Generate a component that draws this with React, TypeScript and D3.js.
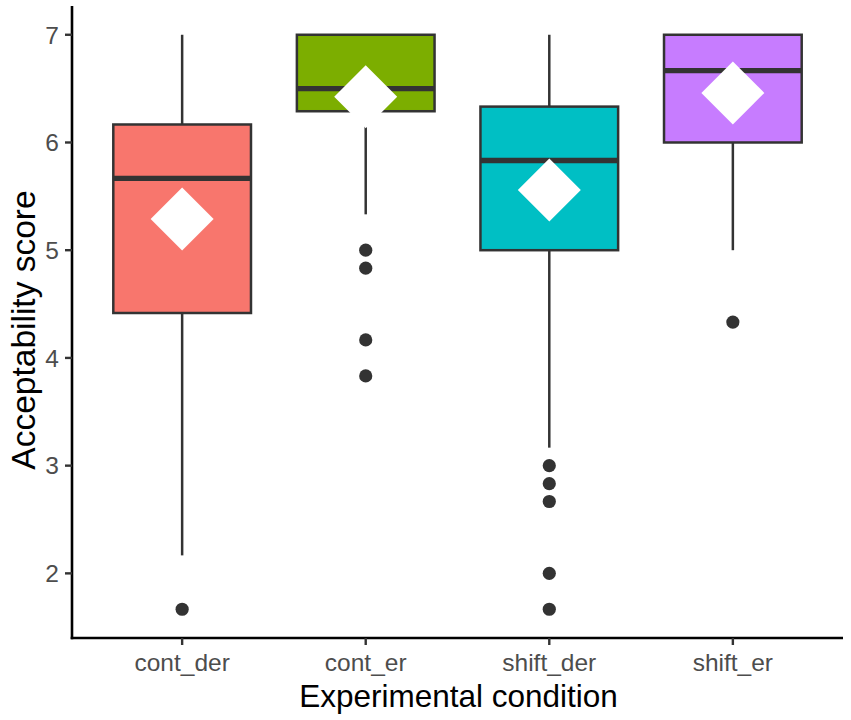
import React from "react";
import * as d3 from "d3";

const categories = ["cont_der", "cont_er", "shift_der", "shift_er"];
const colors = ["#F8766D", "#7CAE00", "#00BFC4", "#C77CFF"];
const lowerWhisker = [2.167, 5.333, 3.167, 5.0];
const q1 = [4.417, 6.29, 5.0, 6.0];
const median = [5.667, 6.5, 5.833, 6.667];
const q3 = [6.167, 7.0, 6.333, 7.0];
const upperWhisker = [7.0, 7.0, 7.0, 7.0];
const means = [5.29, 6.425, 5.56, 6.46];
const outliers: number[][] = [
  [1.667],
  [5.0, 4.833, 4.167, 3.833],
  [3.0, 2.833, 2.667, 2.0, 1.667],
  [4.333],
];
const yTicks = [2, 3, 4, 5, 6, 7];

const W = 851;
const H = 720;
const left = 72;
const right = 843;
const top = 6;
const bottom = 638;

export default function App() {
  const y = d3.scaleLinear().domain([1.4, 7.267]).range([bottom, top]);
  const x = d3.scalePoint<string>().domain(categories).range([left, right]).padding(0.6);
  const bw = x.step() * 0.75;
  const stroke = "#333333";
  const font = "Liberation Sans, Arial, Helvetica, sans-serif";
  const diamond = 31.5;

  return (
    <svg
      width={W}
      height={H}
      style={{ position: "absolute", left: 0, top: 0, background: "#fff" }}
      fontFamily={font}
    >
      <rect x={0} y={0} width={W} height={H} fill="#fff" />
      {categories.map((c, i) => {
        const xc = x(c) as number;
        return (
          <g key={c}>
            <line x1={xc} x2={xc} y1={y(q3[i])} y2={y(upperWhisker[i])} stroke={stroke} strokeWidth={2.5} />
            <line x1={xc} x2={xc} y1={y(q1[i])} y2={y(lowerWhisker[i])} stroke={stroke} strokeWidth={2.5} />
            <rect
              x={xc - bw / 2}
              y={y(q3[i])}
              width={bw}
              height={y(q1[i]) - y(q3[i])}
              fill={colors[i]}
              stroke={stroke}
              strokeWidth={2.5}
            />
            <line
              x1={xc - bw / 2}
              x2={xc + bw / 2}
              y1={y(median[i])}
              y2={y(median[i])}
              stroke={stroke}
              strokeWidth={5.4}
            />
            {outliers[i].map((v, j) => (
              <circle key={j} cx={xc} cy={y(v)} r={6.6} fill={stroke} />
            ))}
            <path
              d={`M${xc},${y(means[i]) - diamond} L${xc + diamond},${y(means[i])} L${xc},${y(means[i]) + diamond} L${xc - diamond},${y(means[i])} Z`}
              fill="#ffffff"
            />
          </g>
        );
      })}
      {/* y axis */}
      <line x1={left} x2={left} y1={top} y2={bottom + 1.3} stroke="#000" strokeWidth={2.6} />
      {yTicks.map((t) => (
        <g key={t}>
          <line x1={left - 7} x2={left} y1={y(t)} y2={y(t)} stroke={stroke} strokeWidth={2.4} />
          <text x={left - 13} y={y(t)} dy="0.36em" textAnchor="end" fontSize={24.5} fill="#4d4d4d">
            {t}
          </text>
        </g>
      ))}
      {/* x axis */}
      <line x1={left - 1.3} x2={right} y1={bottom} y2={bottom} stroke="#000" strokeWidth={2.6} />
      {categories.map((c) => (
        <g key={c}>
          <line x1={x(c)} x2={x(c)} y1={bottom} y2={bottom + 7} stroke={stroke} strokeWidth={2.4} />
          <text x={x(c)} y={671} textAnchor="middle" fontSize={24.5} fill="#4d4d4d">
            {c}
          </text>
        </g>
      ))}
      <text x={(left + right) / 2 + 1} y={707} textAnchor="middle" fontSize={31.5} fill="#000">
        Experimental condition
      </text>
      <text
        transform={`translate(35, ${330}) rotate(-90)`}
        textAnchor="middle"
        fontSize={33.5}
        fill="#000"
      >
        Acceptability score
      </text>
    </svg>
  );
}
